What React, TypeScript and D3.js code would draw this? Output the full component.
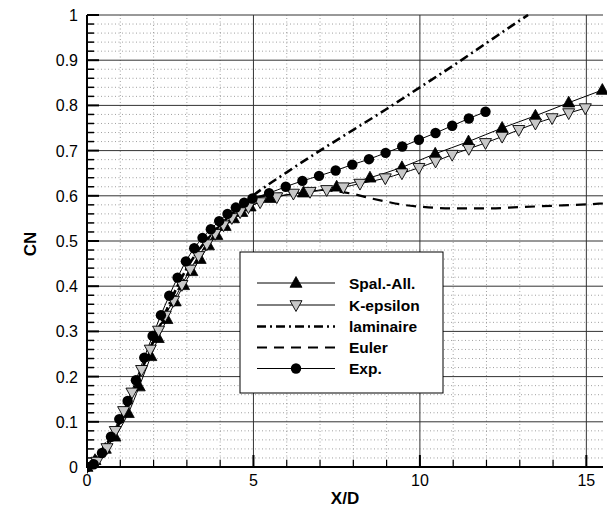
import React from "react";
import * as d3 from "d3";

const spalX = [0, 0.24, 0.55, 0.84, 1.24, 1.57, 1.92, 2.14, 2.4, 2.65, 2.9, 3.15, 3.4, 3.65, 3.9, 4.15, 4.4, 4.65, 4.9, 5.5, 6.5, 7.5, 8.5, 9.46, 10.46, 11.46, 12.47, 13.47, 14.47, 15.48];
const spalY = [0, 0.015, 0.04, 0.067, 0.119, 0.178, 0.245, 0.285, 0.327, 0.366, 0.402, 0.433, 0.46, 0.49, 0.513, 0.533, 0.55, 0.564, 0.576, 0.595, 0.607, 0.62, 0.64, 0.663, 0.693, 0.72, 0.75, 0.777, 0.806, 0.834];

const kepsX = [0, 0.3, 0.6, 0.85, 1.1, 1.35, 1.64, 1.9, 2.15, 2.35, 2.6, 2.85, 3.1, 3.35, 3.6, 3.85, 4.1, 4.35, 4.6, 4.85, 5.2, 5.7, 6.2, 6.7, 7.2, 7.7, 8.2, 8.96, 9.46, 9.97, 10.47, 10.97, 11.47, 11.97, 12.47, 12.97, 13.47, 13.97, 14.47, 14.97];
const kepsY = [0, 0.012, 0.042, 0.08, 0.124, 0.165, 0.215, 0.26, 0.302, 0.335, 0.368, 0.403, 0.437, 0.467, 0.493, 0.516, 0.535, 0.551, 0.564, 0.575, 0.586, 0.597, 0.605, 0.609, 0.613, 0.619, 0.627, 0.639, 0.65, 0.662, 0.676, 0.691, 0.704, 0.717, 0.731, 0.746, 0.76, 0.772, 0.783, 0.794];

const lamX = [0, 1, 2, 3, 4, 4.5, 5, 6, 7, 8, 9, 10, 11, 12, 13, 13.25];
const lamY = [0, 0.1, 0.28, 0.44, 0.535, 0.57, 0.601, 0.652, 0.7, 0.746, 0.792, 0.84, 0.888, 0.938, 0.988, 1.0];

const eulerX = [0, 1, 2, 3, 4, 4.5, 5, 6, 7, 7.5, 8, 8.5, 9, 9.5, 10, 11, 12, 13, 14, 15, 15.5];
const eulerY = [0, 0.1, 0.28, 0.44, 0.535, 0.57, 0.593, 0.607, 0.613, 0.61, 0.604, 0.595, 0.587, 0.58, 0.576, 0.572, 0.572, 0.575, 0.578, 0.581, 0.583];

const expX = [0, 0.2, 0.45, 0.72, 0.97, 1.22, 1.47, 1.72, 1.97, 2.22, 2.47, 2.72, 2.97, 3.22, 3.47, 3.72, 3.97, 4.22, 4.47, 4.72, 4.97, 5.47, 5.97, 6.47, 6.97, 7.47, 7.97, 8.47, 8.97, 9.47, 9.97, 10.47, 10.97, 11.47, 11.97];
const expY = [0, 0.006, 0.031, 0.067, 0.106, 0.146, 0.192, 0.242, 0.29, 0.336, 0.379, 0.419, 0.455, 0.484, 0.507, 0.526, 0.544, 0.56, 0.574, 0.585, 0.594, 0.606, 0.62, 0.633, 0.644, 0.656, 0.669, 0.681, 0.695, 0.709, 0.724, 0.739, 0.755, 0.771, 0.786];

const xTickLabels = [0, 5, 10, 15];
const yTickLabels = [0, 0.1, 0.2, 0.3, 0.4, 0.5, 0.6, 0.7, 0.8, 0.9, 1];
const legendLabels = ["Spal.-All.", "K-epsilon", "laminaire", "Euler", "Exp."];

const W = 607, H = 510;
const x = d3.scaleLinear().domain([0, 15.5]).range([87, 603]);
const y = d3.scaleLinear().domain([0, 1]).range([467, 15]);

const zip = (xs: number[], ys: number[]) => xs.map((v, i) => [v, ys[i]] as [number, number]);
const line = d3.line<[number, number]>().x(d => x(d[0])).y(d => y(d[1])).curve(d3.curveMonotoneX);

const FONT = "'Liberation Sans', Arial, Helvetica, sans-serif";

function TriUp({ cx, cy, s = 12 }: { cx: number; cy: number; s?: number }) {
  const h = s * 0.9;
  return <path d={`M${cx},${cy - h * 0.6}L${cx + s / 2},${cy + h * 0.4}L${cx - s / 2},${cy + h * 0.4}Z`} fill="#000" stroke="#000" strokeWidth={0.8} />;
}
function TriDown({ cx, cy, s = 12 }: { cx: number; cy: number; s?: number }) {
  const h = s * 0.9;
  return <path d={`M${cx},${cy + h * 0.6}L${cx + s / 2},${cy - h * 0.4}L${cx - s / 2},${cy - h * 0.4}Z`} fill="#c8c8c8" stroke="#000" strokeWidth={0.9} />;
}

export default function App() {
  const minorX = d3.range(0, 16, 1);
  const minorY = d3.range(0, 1.001, 0.02).map(v => Math.round(v * 100) / 100);
  const majorY = yTickLabels;
  const majorX = [5, 10, 15];
  const [x0, x1] = x.range();
  const [y0, y1] = y.range();

  const spal = zip(spalX, spalY);
  const keps = zip(kepsX, kepsY);
  const lam = zip(lamX, lamY);
  const eul = zip(eulerX, eulerY);
  const exp = zip(expX, expY);

  const lx0 = 257, lx1 = 335, lmx = 296, ltx = 349;
  const rows = [283, 305, 326.5, 347.5, 368.5];

  return (
    <svg width={W} height={H} style={{ position: "absolute", left: 0, top: 0, background: "#fff" }} fontFamily={FONT}>
      <rect x={0} y={0} width={W} height={H} fill="#fff" />
      <defs>
        <clipPath id="plot">
          <rect x={x0} y={y1 - 1} width={x1 - x0 + 6} height={y0 - y1 + 8} />
        </clipPath>
      </defs>
      {minorX.filter(v => !majorX.includes(v) && v !== 0).map(v => (
        <line key={"mx" + v} x1={x(v)} x2={x(v)} y1={y0} y2={y1} stroke="#888" strokeWidth={0.8} strokeDasharray="1,2.5" />
      ))}
      {minorY.filter(v => Math.abs(v * 10 - Math.round(v * 10)) > 0.01).map(v => (
        <line key={"my" + v} x1={x0} x2={x1} y1={y(v)} y2={y(v)} stroke="#888" strokeWidth={0.8} strokeDasharray="1,2.5" />
      ))}
      {majorY.filter(v => v !== 0).map(v => (
        <line key={"My" + v} x1={x0} x2={x1} y1={y(v)} y2={y(v)} stroke="#333" strokeWidth={1} />
      ))}
      {majorX.map(v => (
        <line key={"Mx" + v} x1={x(v)} x2={x(v)} y1={y0} y2={y1} stroke="#333" strokeWidth={1} />
      ))}
      <line x1={x0} x2={x0} y1={y0 + 1} y2={y1} stroke="#000" strokeWidth={2} />
      <line x1={x0 - 1} x2={x1} y1={y0} y2={y0} stroke="#000" strokeWidth={2} />
      {minorY.map(v => {
        const major = Math.abs(v * 10 - Math.round(v * 10)) < 0.01;
        return <line key={"ty" + v} x1={x0} x2={x0 + (major ? 12 : 7)} y1={y(v)} y2={y(v)} stroke="#000" strokeWidth={major ? 2 : 1.5} />;
      })}
      {minorX.map(v => {
        const major = v % 5 === 0;
        return <line key={"tx" + v} x1={x(v)} x2={x(v)} y1={y0} y2={y0 - (major ? 12 : 7)} stroke="#000" strokeWidth={major ? 2 : 1.2} />;
      })}
      {yTickLabels.map(v => (
        <text key={"yl" + v} x={78} y={y(v) + 6} textAnchor="end" fontSize={16}>{String(v)}</text>
      ))}
      {xTickLabels.map(v => (
        <text key={"xl" + v} x={x(v)} y={486} textAnchor="middle" fontSize={16}>{String(v)}</text>
      ))}
      <text x={345} y={504} textAnchor="middle" fontSize={17} fontWeight="bold">X/D</text>
      <text transform="translate(36,244) rotate(-90)" textAnchor="middle" fontSize={17} fontWeight="bold">CN</text>

      <g clipPath="url(#plot)">
        <path d={line(lam) || ""} fill="none" stroke="#000" strokeWidth={2.6} strokeDasharray="9,4,2,4" />
        <path d={line(eul) || ""} fill="none" stroke="#000" strokeWidth={2.2} strokeDasharray="10,7" />
        <path d={line(spal) || ""} fill="none" stroke="#000" strokeWidth={1} />
        <path d={line(keps) || ""} fill="none" stroke="#000" strokeWidth={1} />
        <path d={line(exp) || ""} fill="none" stroke="#000" strokeWidth={1} />
        {spal.map((d, i) => <TriUp key={"s" + i} cx={x(d[0])} cy={y(d[1])} />)}
        {keps.map((d, i) => <TriDown key={"k" + i} cx={x(d[0])} cy={y(d[1])} />)}
        {exp.map((d, i) => <circle key={"e" + i} cx={x(d[0])} cy={y(d[1])} r={5.2} fill="#000" />)}
      </g>

      <rect x={240} y={252} width={203} height={141} fill="#fff" stroke="#000" strokeWidth={1} />
      <line x1={lx0} x2={lx1} y1={rows[0]} y2={rows[0]} stroke="#000" strokeWidth={1} />
      <TriUp cx={lmx} cy={rows[0]} />
      <line x1={lx0} x2={lx1} y1={rows[1]} y2={rows[1]} stroke="#000" strokeWidth={1} />
      <TriDown cx={lmx} cy={rows[1]} />
      <line x1={lx0} x2={lx1} y1={rows[2]} y2={rows[2]} stroke="#000" strokeWidth={2.6} strokeDasharray="9,4,2,4" />
      <line x1={lx0} x2={lx1} y1={rows[3]} y2={rows[3]} stroke="#000" strokeWidth={2.2} strokeDasharray="10,7" />
      <line x1={lx0} x2={lx1} y1={rows[4]} y2={rows[4]} stroke="#000" strokeWidth={1} />
      <circle cx={lmx} cy={rows[4]} r={5.2} fill="#000" />
      {legendLabels.map((t, i) => (
        <text key={t} x={ltx} y={rows[i] + 5.5} fontSize={15.5} fontWeight="bold">{t}</text>
      ))}
    </svg>
  );
}
